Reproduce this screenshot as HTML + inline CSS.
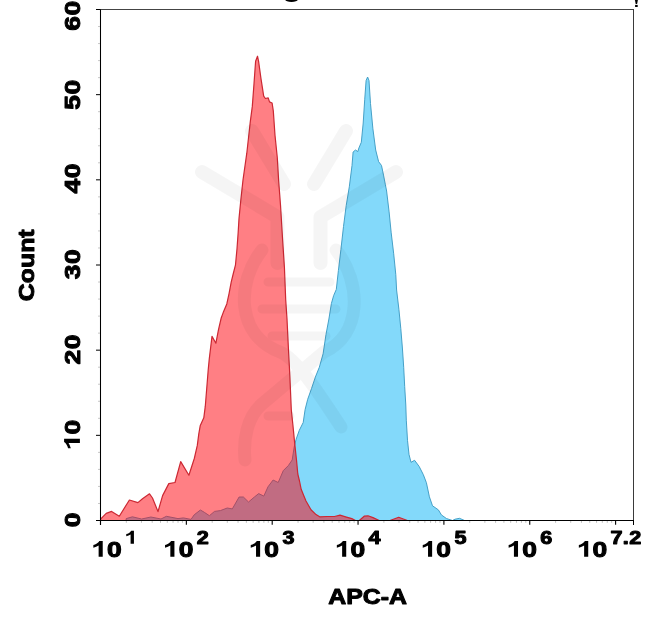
<!DOCTYPE html>
<html>
<head>
<meta charset="utf-8">
<title>APC-A histogram</title>
<style>
html,body{margin:0;padding:0;background:#fff;}
body{width:647px;height:621px;overflow:hidden;font-family:"Liberation Sans",sans-serif;}
svg{display:block;will-change:transform;}
text,.g{font-family:"Liberation Sans",sans-serif;font-weight:bold;fill:#000;stroke:#000;stroke-width:1.0px;stroke-linejoin:round;}
.ax{font-size:22.4px;}
</style>
</head>
<body>
<svg width="647" height="621" viewBox="0 0 647 621">
<rect x="0" y="0" width="647" height="621" fill="#ffffff"/>

<!-- cropped remnants of title text at top edge -->
<ellipse cx="291.5" cy="-0.2" rx="6.2" ry="2.2" fill="#000"/>
<polygon points="634.9,0 637.9,0 637.1,4 635.7,4" fill="#000"/>
<rect x="635.1" y="4.9" width="2.6" height="2.1" fill="#000"/>

<!-- histograms -->
<polygon points="126,520.5 126.2,518.6 132.4,516.8 141.6,519 150.9,517 161,519 166.4,516.3 178,518.6 183.4,517.9 191,519.4 194.2,514.8 200.4,510 204.3,512.3 209.4,515.7 214.5,511.4 220.4,510.6 227.2,508 232.3,508.9 239.1,497 243.4,497 248.5,502 254.4,497 258.7,493.6 263.8,496.1 268,486.8 273.1,480 278.2,482.5 283.3,470.6 288.4,465.5 292.2,459.9 294.2,447 296.1,439.3 299.3,430.3 303.2,422.5 305.1,409.6 307.7,399.3 311.5,388.6 315.4,377 319.3,367.3 323.1,353.8 326,334.4 328.9,319 331.4,303.5 333.6,295.7 336.3,289.4 338.4,270.5 340.9,249.6 343.5,226.5 346.2,205.6 349.3,186.8 352,165.5 353.1,152 355.5,150 357.8,151.6 358.9,148 361.3,142.3 363.2,123 364.7,99.8 366.1,80.5 367.6,77 369,80.5 370.5,103.6 372.9,128.8 375.7,150 378.6,161.6 381.5,165.5 383.5,175.1 385.4,184.8 386.6,191 389.1,211.9 391.2,232.8 393.7,253.8 395.8,274.7 396.6,290 398.9,309.3 400.8,328.6 402.4,348 403.7,367.3 404.7,386.6 405.8,405 406.3,420.2 407.5,440.3 409.0,454.4 411.0,462.3 414.6,460.3 419.2,466.5 423.3,474.6 426.4,482.7 429.4,496.8 432.5,505.8 438.4,509.9 441.4,514.9 446.4,518.5 452.5,520.5 455,519.2 459.5,518.3 464.6,520.5" fill="#08b4f5" fill-opacity="0.5" stroke="#3f9cc4" stroke-width="0.95" stroke-linejoin="round"/>
<polygon points="100.5,520.5 100.8,518.8 106.2,513.4 111.6,511.4 119.3,516.2 129.4,500 137.9,502.6 142.5,498.7 149.5,493.8 152.5,498 158,511.6 162.6,495.6 168.8,483.6 175,482.5 180.7,461.6 188.9,475.2 194.3,458.5 197.3,445.4 198.8,433.8 200.2,425.8 203.8,417.8 205.3,406.2 206.7,388.8 208.2,370 209.3,358.6 212,336.4 215.9,343.2 218.5,329.7 221.2,318 223.2,312.6 226.8,303.9 229,293.8 231.2,282.2 233.3,273.5 235.5,264.8 237,248.8 238.2,232 239,218.6 240.9,199.3 243.0,180 246.8,153.2 250.3,121.6 252.3,106.4 254.0,83.8 255.6,61.3 257.5,56.2 258.6,61.3 260.9,78.2 263.7,96.2 265.4,98.5 268.2,97.9 269.5,101.9 272.1,103 273.3,110.9 275,135.2 277.3,157.7 278.6,180 280.5,205 282.5,238 284.4,267 285.7,299.8 287,319 288.4,348 289.9,377 291.3,409.8 292.9,425 294.8,444.4 296.5,460 297.8,474 299.5,481 301.2,489.3 303.5,495 306,501 311,509.7 316,514.6 319.7,516.8 327,516.5 334.5,516.5 340,515.2 345.6,516.8 351.8,518.6 355.5,520.5 359.3,520.5 364.2,516.2 368,515.8 373,517.6 379.2,520.5 390,520.5 398.7,517.3 407.4,520.5" fill="#ff000a" fill-opacity="0.5" stroke="#cc2833" stroke-width="1.2" stroke-linejoin="round"/>

<!-- watermark -->
<g fill="none" stroke="#000" opacity="0.035" stroke-linecap="round" stroke-linejoin="round">
  <path d="M346,131 L314,184" stroke-width="14"/>
  <path d="M252,131 L284,184" stroke-width="14"/>
  <path d="M396,172 L320.5,217 L320.5,263" stroke-width="14"/>
  <path d="M202,172 L277.5,217 L277.5,263" stroke-width="14"/>
  <path d="M262,250 C236,283 236,335 280,352 C296,358 318,392 341,427" stroke-width="13"/>
  <path d="M336,250 C362,283 362,335 324,352 L262,404 C247,417 243,440 245,460" stroke-width="13"/>
  <path d="M268,282 L330,282 M262,309 L336,309 M272,336 L326,336 M268,416 L290,416" stroke-width="9"/>
</g>

<!-- frame -->
<line x1="96" y1="9.5" x2="634.0" y2="9.5" stroke="#444" stroke-width="1"/>
<line x1="633.5" y1="9.5" x2="633.5" y2="520.5" stroke="#3a3a3a" stroke-width="1"/>
<line x1="100.5" y1="9.5" x2="100.5" y2="525.0" stroke="#000" stroke-width="1.05"/>
<line x1="96" y1="520.5" x2="634.0" y2="520.5" stroke="#000" stroke-width="1.15"/>
<line x1="96.00" y1="520.50" x2="100.50" y2="520.50" stroke="#000" stroke-width="1"/>
<line x1="98.00" y1="503.47" x2="100.50" y2="503.47" stroke="#000" stroke-opacity="0.22" stroke-width="1"/>
<line x1="98.00" y1="486.43" x2="100.50" y2="486.43" stroke="#000" stroke-opacity="0.22" stroke-width="1"/>
<line x1="98.00" y1="469.40" x2="100.50" y2="469.40" stroke="#000" stroke-opacity="0.22" stroke-width="1"/>
<line x1="98.00" y1="452.37" x2="100.50" y2="452.37" stroke="#000" stroke-opacity="0.22" stroke-width="1"/>
<line x1="96.00" y1="435.33" x2="100.50" y2="435.33" stroke="#000" stroke-width="1"/>
<line x1="98.00" y1="418.30" x2="100.50" y2="418.30" stroke="#000" stroke-opacity="0.22" stroke-width="1"/>
<line x1="98.00" y1="401.27" x2="100.50" y2="401.27" stroke="#000" stroke-opacity="0.22" stroke-width="1"/>
<line x1="98.00" y1="384.23" x2="100.50" y2="384.23" stroke="#000" stroke-opacity="0.22" stroke-width="1"/>
<line x1="98.00" y1="367.20" x2="100.50" y2="367.20" stroke="#000" stroke-opacity="0.22" stroke-width="1"/>
<line x1="96.00" y1="350.17" x2="100.50" y2="350.17" stroke="#000" stroke-width="1"/>
<line x1="98.00" y1="333.13" x2="100.50" y2="333.13" stroke="#000" stroke-opacity="0.22" stroke-width="1"/>
<line x1="98.00" y1="316.10" x2="100.50" y2="316.10" stroke="#000" stroke-opacity="0.22" stroke-width="1"/>
<line x1="98.00" y1="299.07" x2="100.50" y2="299.07" stroke="#000" stroke-opacity="0.22" stroke-width="1"/>
<line x1="98.00" y1="282.03" x2="100.50" y2="282.03" stroke="#000" stroke-opacity="0.22" stroke-width="1"/>
<line x1="96.00" y1="265.00" x2="100.50" y2="265.00" stroke="#000" stroke-width="1"/>
<line x1="98.00" y1="247.97" x2="100.50" y2="247.97" stroke="#000" stroke-opacity="0.22" stroke-width="1"/>
<line x1="98.00" y1="230.93" x2="100.50" y2="230.93" stroke="#000" stroke-opacity="0.22" stroke-width="1"/>
<line x1="98.00" y1="213.90" x2="100.50" y2="213.90" stroke="#000" stroke-opacity="0.22" stroke-width="1"/>
<line x1="98.00" y1="196.87" x2="100.50" y2="196.87" stroke="#000" stroke-opacity="0.22" stroke-width="1"/>
<line x1="96.00" y1="179.83" x2="100.50" y2="179.83" stroke="#000" stroke-width="1"/>
<line x1="98.00" y1="162.80" x2="100.50" y2="162.80" stroke="#000" stroke-opacity="0.22" stroke-width="1"/>
<line x1="98.00" y1="145.77" x2="100.50" y2="145.77" stroke="#000" stroke-opacity="0.22" stroke-width="1"/>
<line x1="98.00" y1="128.73" x2="100.50" y2="128.73" stroke="#000" stroke-opacity="0.22" stroke-width="1"/>
<line x1="98.00" y1="111.70" x2="100.50" y2="111.70" stroke="#000" stroke-opacity="0.22" stroke-width="1"/>
<line x1="96.00" y1="94.67" x2="100.50" y2="94.67" stroke="#000" stroke-width="1"/>
<line x1="98.00" y1="77.63" x2="100.50" y2="77.63" stroke="#000" stroke-opacity="0.22" stroke-width="1"/>
<line x1="98.00" y1="60.60" x2="100.50" y2="60.60" stroke="#000" stroke-opacity="0.22" stroke-width="1"/>
<line x1="98.00" y1="43.57" x2="100.50" y2="43.57" stroke="#000" stroke-opacity="0.22" stroke-width="1"/>
<line x1="98.00" y1="26.53" x2="100.50" y2="26.53" stroke="#000" stroke-opacity="0.22" stroke-width="1"/>
<line x1="96.00" y1="9.50" x2="100.50" y2="9.50" stroke="#000" stroke-width="1"/>
<line x1="100.50" y1="520.50" x2="100.50" y2="524.80" stroke="#000" stroke-width="1.1"/>
<line x1="126.34" y1="520.50" x2="126.34" y2="522.80" stroke="#000" stroke-opacity="0.25" stroke-width="1"/>
<line x1="141.46" y1="520.50" x2="141.46" y2="522.80" stroke="#000" stroke-opacity="0.25" stroke-width="1"/>
<line x1="152.19" y1="520.50" x2="152.19" y2="522.80" stroke="#000" stroke-opacity="0.25" stroke-width="1"/>
<line x1="160.51" y1="520.50" x2="160.51" y2="522.80" stroke="#000" stroke-opacity="0.25" stroke-width="1"/>
<line x1="167.30" y1="520.50" x2="167.30" y2="522.80" stroke="#000" stroke-opacity="0.25" stroke-width="1"/>
<line x1="173.05" y1="520.50" x2="173.05" y2="522.80" stroke="#000" stroke-opacity="0.25" stroke-width="1"/>
<line x1="178.03" y1="520.50" x2="178.03" y2="522.80" stroke="#000" stroke-opacity="0.25" stroke-width="1"/>
<line x1="182.42" y1="520.50" x2="182.42" y2="522.80" stroke="#000" stroke-opacity="0.25" stroke-width="1"/>
<line x1="186.35" y1="520.50" x2="186.35" y2="524.80" stroke="#000" stroke-width="1.1"/>
<line x1="212.19" y1="520.50" x2="212.19" y2="522.80" stroke="#000" stroke-opacity="0.25" stroke-width="1"/>
<line x1="227.31" y1="520.50" x2="227.31" y2="522.80" stroke="#000" stroke-opacity="0.25" stroke-width="1"/>
<line x1="238.04" y1="520.50" x2="238.04" y2="522.80" stroke="#000" stroke-opacity="0.25" stroke-width="1"/>
<line x1="246.36" y1="520.50" x2="246.36" y2="522.80" stroke="#000" stroke-opacity="0.25" stroke-width="1"/>
<line x1="253.15" y1="520.50" x2="253.15" y2="522.80" stroke="#000" stroke-opacity="0.25" stroke-width="1"/>
<line x1="258.90" y1="520.50" x2="258.90" y2="522.80" stroke="#000" stroke-opacity="0.25" stroke-width="1"/>
<line x1="263.88" y1="520.50" x2="263.88" y2="522.80" stroke="#000" stroke-opacity="0.25" stroke-width="1"/>
<line x1="268.27" y1="520.50" x2="268.27" y2="522.80" stroke="#000" stroke-opacity="0.25" stroke-width="1"/>
<line x1="272.20" y1="520.50" x2="272.20" y2="524.80" stroke="#000" stroke-width="1.1"/>
<line x1="298.04" y1="520.50" x2="298.04" y2="522.80" stroke="#000" stroke-opacity="0.25" stroke-width="1"/>
<line x1="313.16" y1="520.50" x2="313.16" y2="522.80" stroke="#000" stroke-opacity="0.25" stroke-width="1"/>
<line x1="323.89" y1="520.50" x2="323.89" y2="522.80" stroke="#000" stroke-opacity="0.25" stroke-width="1"/>
<line x1="332.21" y1="520.50" x2="332.21" y2="522.80" stroke="#000" stroke-opacity="0.25" stroke-width="1"/>
<line x1="339.00" y1="520.50" x2="339.00" y2="522.80" stroke="#000" stroke-opacity="0.25" stroke-width="1"/>
<line x1="344.75" y1="520.50" x2="344.75" y2="522.80" stroke="#000" stroke-opacity="0.25" stroke-width="1"/>
<line x1="349.73" y1="520.50" x2="349.73" y2="522.80" stroke="#000" stroke-opacity="0.25" stroke-width="1"/>
<line x1="354.12" y1="520.50" x2="354.12" y2="522.80" stroke="#000" stroke-opacity="0.25" stroke-width="1"/>
<line x1="358.05" y1="520.50" x2="358.05" y2="524.80" stroke="#000" stroke-width="1.1"/>
<line x1="383.89" y1="520.50" x2="383.89" y2="522.80" stroke="#000" stroke-opacity="0.25" stroke-width="1"/>
<line x1="399.01" y1="520.50" x2="399.01" y2="522.80" stroke="#000" stroke-opacity="0.25" stroke-width="1"/>
<line x1="409.74" y1="520.50" x2="409.74" y2="522.80" stroke="#000" stroke-opacity="0.25" stroke-width="1"/>
<line x1="418.06" y1="520.50" x2="418.06" y2="522.80" stroke="#000" stroke-opacity="0.25" stroke-width="1"/>
<line x1="424.85" y1="520.50" x2="424.85" y2="522.80" stroke="#000" stroke-opacity="0.25" stroke-width="1"/>
<line x1="430.60" y1="520.50" x2="430.60" y2="522.80" stroke="#000" stroke-opacity="0.25" stroke-width="1"/>
<line x1="435.58" y1="520.50" x2="435.58" y2="522.80" stroke="#000" stroke-opacity="0.25" stroke-width="1"/>
<line x1="439.97" y1="520.50" x2="439.97" y2="522.80" stroke="#000" stroke-opacity="0.25" stroke-width="1"/>
<line x1="443.90" y1="520.50" x2="443.90" y2="524.80" stroke="#000" stroke-width="1.1"/>
<line x1="469.74" y1="520.50" x2="469.74" y2="522.80" stroke="#000" stroke-opacity="0.25" stroke-width="1"/>
<line x1="484.86" y1="520.50" x2="484.86" y2="522.80" stroke="#000" stroke-opacity="0.25" stroke-width="1"/>
<line x1="495.59" y1="520.50" x2="495.59" y2="522.80" stroke="#000" stroke-opacity="0.25" stroke-width="1"/>
<line x1="503.91" y1="520.50" x2="503.91" y2="522.80" stroke="#000" stroke-opacity="0.25" stroke-width="1"/>
<line x1="510.70" y1="520.50" x2="510.70" y2="522.80" stroke="#000" stroke-opacity="0.25" stroke-width="1"/>
<line x1="516.45" y1="520.50" x2="516.45" y2="522.80" stroke="#000" stroke-opacity="0.25" stroke-width="1"/>
<line x1="521.43" y1="520.50" x2="521.43" y2="522.80" stroke="#000" stroke-opacity="0.25" stroke-width="1"/>
<line x1="525.82" y1="520.50" x2="525.82" y2="522.80" stroke="#000" stroke-opacity="0.25" stroke-width="1"/>
<line x1="529.75" y1="520.50" x2="529.75" y2="524.80" stroke="#000" stroke-width="1.1"/>
<line x1="555.59" y1="520.50" x2="555.59" y2="522.80" stroke="#000" stroke-opacity="0.25" stroke-width="1"/>
<line x1="570.71" y1="520.50" x2="570.71" y2="522.80" stroke="#000" stroke-opacity="0.25" stroke-width="1"/>
<line x1="581.44" y1="520.50" x2="581.44" y2="522.80" stroke="#000" stroke-opacity="0.25" stroke-width="1"/>
<line x1="589.76" y1="520.50" x2="589.76" y2="522.80" stroke="#000" stroke-opacity="0.25" stroke-width="1"/>
<line x1="596.55" y1="520.50" x2="596.55" y2="522.80" stroke="#000" stroke-opacity="0.25" stroke-width="1"/>
<line x1="602.30" y1="520.50" x2="602.30" y2="522.80" stroke="#000" stroke-opacity="0.25" stroke-width="1"/>
<line x1="607.28" y1="520.50" x2="607.28" y2="522.80" stroke="#000" stroke-opacity="0.25" stroke-width="1"/>
<line x1="611.67" y1="520.50" x2="611.67" y2="522.80" stroke="#000" stroke-opacity="0.25" stroke-width="1"/>
<line x1="615.60" y1="520.50" x2="615.60" y2="524.80" stroke="#000" stroke-width="1.1"/>
<line x1="633.50" y1="520.50" x2="633.50" y2="525.00" stroke="#000" stroke-width="1"/>

<!-- tick labels -->
<g transform="translate(79.9,15.8) rotate(-90) scale(1.2,1) translate(-12.43,0)"><text x="0.00" y="0.00" style="font-size:22.0px">6</text><text x="12.63" y="0.00" style="font-size:22.0px">0</text></g>
<g transform="translate(79.9,94.8) rotate(-90) scale(1.2,1) translate(-12.43,0)"><text x="0.00" y="0.00" style="font-size:22.0px">5</text><text x="12.63" y="0.00" style="font-size:22.0px">0</text></g>
<g transform="translate(79.9,178.6) rotate(-90) scale(1.2,1) translate(-12.43,0)"><text x="0.00" y="0.00" style="font-size:22.0px">4</text><text x="12.63" y="0.00" style="font-size:22.0px">0</text></g>
<g transform="translate(79.9,264.3) rotate(-90) scale(1.2,1) translate(-12.43,0)"><text x="0.00" y="0.00" style="font-size:22.0px">3</text><text x="12.63" y="0.00" style="font-size:22.0px">0</text></g>
<g transform="translate(79.9,349.6) rotate(-90) scale(1.2,1) translate(-12.43,0)"><text x="0.00" y="0.00" style="font-size:22.0px">2</text><text x="12.63" y="0.00" style="font-size:22.0px">0</text></g>
<g transform="translate(79.9,434.8) rotate(-90) scale(1.2,1) translate(-12.43,0)"><path class="g" d="M806 0H525V1059Q371 915 162 846V1101Q272 1137 401 1237.5Q530 1338 578 1472H806Z" transform="translate(-0.68,0.00) scale(0.01214,-0.01074)" stroke-width="140"/><text x="12.63" y="0.00" style="font-size:22.0px">0</text></g>
<g transform="translate(79.9,519.8) rotate(-90) scale(1.2,1) translate(-6.12,0)"><text x="0.00" y="0.00" style="font-size:22.0px">0</text></g>
<g transform="translate(91.8,556.8) scale(1.2,1)"><path class="g" d="M806 0H525V1059Q371 915 162 846V1101Q272 1137 401 1237.5Q530 1338 578 1472H806Z" transform="translate(-0.68,0.00) scale(0.01214,-0.01074)" stroke-width="140"/><text x="12.63" y="0.00" style="font-size:22.0px">0</text><path class="g" d="M806 0H525V1059Q371 915 162 846V1101Q272 1137 401 1237.5Q530 1338 578 1472H806Z" transform="translate(27.11,-13.00) scale(0.00993,-0.00879)" stroke-width="171"/></g>
<g transform="translate(163.5,556.8) scale(1.2,1)"><path class="g" d="M806 0H525V1059Q371 915 162 846V1101Q272 1137 401 1237.5Q530 1338 578 1472H806Z" transform="translate(-0.68,0.00) scale(0.01214,-0.01074)" stroke-width="140"/><text x="12.63" y="0.00" style="font-size:22.0px">0</text><text x="27.66" y="-13.00" style="font-size:18.0px">2</text></g>
<g transform="translate(249.2,556.8) scale(1.2,1)"><path class="g" d="M806 0H525V1059Q371 915 162 846V1101Q272 1137 401 1237.5Q530 1338 578 1472H806Z" transform="translate(-0.68,0.00) scale(0.01214,-0.01074)" stroke-width="140"/><text x="12.63" y="0.00" style="font-size:22.0px">0</text><text x="27.66" y="-13.00" style="font-size:18.0px">3</text></g>
<g transform="translate(335.3,556.8) scale(1.2,1)"><path class="g" d="M806 0H525V1059Q371 915 162 846V1101Q272 1137 401 1237.5Q530 1338 578 1472H806Z" transform="translate(-0.68,0.00) scale(0.01214,-0.01074)" stroke-width="140"/><text x="12.63" y="0.00" style="font-size:22.0px">0</text><text x="27.66" y="-13.00" style="font-size:18.0px">4</text></g>
<g transform="translate(421.2,556.8) scale(1.2,1)"><path class="g" d="M806 0H525V1059Q371 915 162 846V1101Q272 1137 401 1237.5Q530 1338 578 1472H806Z" transform="translate(-0.68,0.00) scale(0.01214,-0.01074)" stroke-width="140"/><text x="12.63" y="0.00" style="font-size:22.0px">0</text><text x="27.66" y="-13.00" style="font-size:18.0px">5</text></g>
<g transform="translate(507.1,556.8) scale(1.2,1)"><path class="g" d="M806 0H525V1059Q371 915 162 846V1101Q272 1137 401 1237.5Q530 1338 578 1472H806Z" transform="translate(-0.68,0.00) scale(0.01214,-0.01074)" stroke-width="140"/><text x="12.63" y="0.00" style="font-size:22.0px">0</text><text x="27.66" y="-13.00" style="font-size:18.0px">6</text></g>
<g transform="translate(577.3,556.8) scale(1.2,1)"><path class="g" d="M806 0H525V1059Q371 915 162 846V1101Q272 1137 401 1237.5Q530 1338 578 1472H806Z" transform="translate(-0.68,0.00) scale(0.01214,-0.01074)" stroke-width="140"/><text x="12.63" y="0.00" style="font-size:22.0px">0</text><text x="27.66" y="-13.00" style="font-size:18.0px">7</text><text x="37.97" y="-13.00" style="font-size:18.0px">.</text><text x="43.28" y="-13.00" style="font-size:18.0px">2</text></g>

<!-- axis titles -->
<text class="ax" transform="translate(33.7,265.3) rotate(-90) scale(1.11,1)" text-anchor="middle">Count</text>
<text class="ax" transform="translate(367.6,604.2) scale(1.11,1)" text-anchor="middle">APC-A</text>
</svg>
</body>
</html>
